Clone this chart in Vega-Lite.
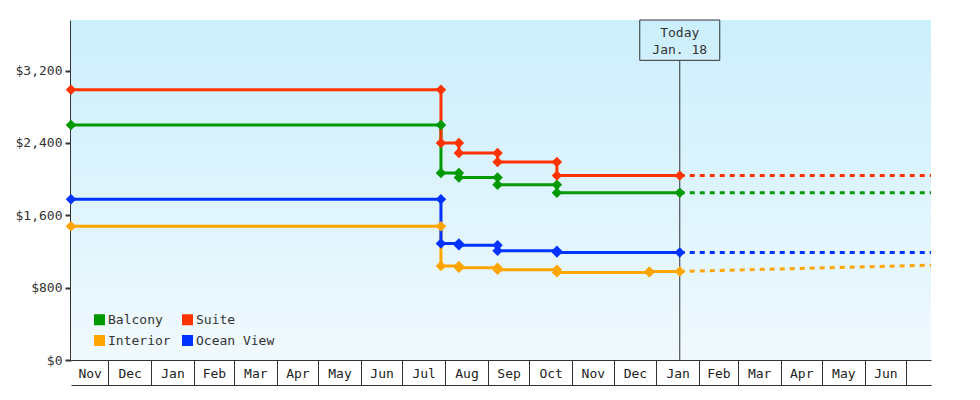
{
  "$schema": "https://vega.github.io/schema/vega-lite/v6.json",
  "width": 860,
  "height": 340,
  "autosize": {"type": "none"},
  "padding": {"left": 71, "top": 20, "right": 49, "bottom": 40},
  "background": "#ffffff",
  "config": {"view": {"stroke": null}, "font": "DejaVu Sans Mono"},
  "datasets": {
    "prices": [
      {"date": "2011-11-04", "room": "Balcony", "price": 2599},
      {"date": "2012-07-29", "room": "Balcony", "price": 2599},
      {"date": "2012-07-29", "room": "Balcony", "price": 2069},
      {"date": "2012-08-11", "room": "Balcony", "price": 2069},
      {"date": "2012-08-11", "room": "Balcony", "price": 2019},
      {"date": "2012-09-08", "room": "Balcony", "price": 2019},
      {"date": "2012-09-08", "room": "Balcony", "price": 1939},
      {"date": "2012-10-21", "room": "Balcony", "price": 1939},
      {"date": "2012-10-21", "room": "Balcony", "price": 1849},
      {"date": "2013-01-18", "room": "Balcony", "price": 1849},
      {"date": "2011-11-04", "room": "Suite", "price": 2989},
      {"date": "2012-07-29", "room": "Suite", "price": 2989},
      {"date": "2012-07-29", "room": "Suite", "price": 2399},
      {"date": "2012-08-11", "room": "Suite", "price": 2399},
      {"date": "2012-08-11", "room": "Suite", "price": 2289},
      {"date": "2012-09-08", "room": "Suite", "price": 2289},
      {"date": "2012-09-08", "room": "Suite", "price": 2189},
      {"date": "2012-10-21", "room": "Suite", "price": 2189},
      {"date": "2012-10-21", "room": "Suite", "price": 2039},
      {"date": "2013-01-18", "room": "Suite", "price": 2039},
      {"date": "2011-11-04", "room": "Interior", "price": 1479},
      {"date": "2012-07-29", "room": "Interior", "price": 1479},
      {"date": "2012-07-29", "room": "Interior", "price": 1039},
      {"date": "2012-08-11", "room": "Interior", "price": 1039},
      {"date": "2012-08-11", "room": "Interior", "price": 1019},
      {"date": "2012-09-08", "room": "Interior", "price": 1019},
      {"date": "2012-09-08", "room": "Interior", "price": 999},
      {"date": "2012-10-21", "room": "Interior", "price": 999},
      {"date": "2012-10-21", "room": "Interior", "price": 969},
      {"date": "2012-12-27", "room": "Interior", "price": 969},
      {"date": "2012-12-27", "room": "Interior", "price": 979},
      {"date": "2013-01-18", "room": "Interior", "price": 979},
      {"date": "2011-11-04", "room": "Ocean View", "price": 1779},
      {"date": "2012-07-29", "room": "Ocean View", "price": 1779},
      {"date": "2012-07-29", "room": "Ocean View", "price": 1289},
      {"date": "2012-08-11", "room": "Ocean View", "price": 1289},
      {"date": "2012-08-11", "room": "Ocean View", "price": 1269},
      {"date": "2012-09-08", "room": "Ocean View", "price": 1269},
      {"date": "2012-09-08", "room": "Ocean View", "price": 1209},
      {"date": "2012-10-21", "room": "Ocean View", "price": 1209},
      {"date": "2012-10-21", "room": "Ocean View", "price": 1189},
      {"date": "2013-01-18", "room": "Ocean View", "price": 1189}
    ],
    "forecast": [
      {"date": "2013-01-18", "room": "Balcony", "price": 1849},
      {"date": "2013-07-19", "room": "Balcony", "price": 1849},
      {"date": "2013-01-18", "room": "Suite", "price": 2039},
      {"date": "2013-07-19", "room": "Suite", "price": 2039},
      {"date": "2013-01-18", "room": "Interior", "price": 979},
      {"date": "2013-07-19", "room": "Interior", "price": 1049},
      {"date": "2013-01-18", "room": "Ocean View", "price": 1189},
      {"date": "2013-07-19", "room": "Ocean View", "price": 1189}
    ],
    "today": [{"date": "2013-01-18", "label": "Today"}]
  },
  "layer": [
    {
      "data": {"values": [{"bg": 1}]},
      "mark": {
        "type": "rect",
        "color": {
          "gradient": "linear",
          "x1": 0, "y1": 0, "x2": 0, "y2": 1,
          "stops": [
            {"offset": 0, "color": "#cbeffc"},
            {"offset": 1, "color": "#f0f9fe"}
          ]
        }
      },
      "encoding": {}
    },
    {
      "data": {"name": "today"},
      "mark": {"type": "rule", "color": "#333333", "strokeWidth": 1},
      "encoding": {
        "x": {"field": "date", "type": "temporal", "axis": null},
        "y": {"datum": 3314, "type": "quantitative", "axis": null},
        "y2": {"datum": 0}
      }
    },
    {
      "data": {"name": "today"},
      "mark": {"type": "rect", "width": 80, "fillOpacity": 0, "stroke": "#333333", "strokeWidth": 1},
      "encoding": {
        "x": {"field": "date", "type": "temporal", "axis": null},
        "y": {"datum": 3760, "type": "quantitative", "axis": null},
        "y2": {"datum": 3314}
      }
    },
    {
      "data": {"name": "today"},
      "mark": {"type": "text", "text": ["Today", "Jan. 18"], "font": "DejaVu Sans Mono", "fontSize": 13, "color": "#333333", "baseline": "middle", "align": "center", "lineHeight": 17},
      "encoding": {
        "x": {"field": "date", "type": "temporal", "axis": null},
        "y": {"datum": 3614, "type": "quantitative", "axis": null}
      }
    },
    {
      "data": {"name": "forecast"},
      "mark": {"type": "line", "strokeWidth": 3, "strokeDash": [5, 5]},
      "encoding": {
        "x": {"field": "date", "type": "temporal", "axis": null},
        "y": {"field": "price", "type": "quantitative", "axis": null},
        "color": {"field": "room", "type": "nominal"}
      }
    },
    {
      "data": {"name": "prices"},
      "mark": {"type": "line", "strokeWidth": 3},
      "encoding": {
        "x": {
          "field": "date", "type": "temporal",
          "scale": {"type": "utc", "nice": false, "domain": [{"year": 2011, "month": 11, "date": 4, "utc": true}, {"year": 2013, "month": 7, "date": 19, "utc": true}]},
          "axis": {
            "orient": "bottom",
            "title": null, "grid": false, "ticks": false, "domain": true, "domainColor": "#333333", "domainWidth": 1,
            "labelExpr": "utcFormat(datum.value, '%b')",
            "values": [
              {"year": 2011, "month": 11, "date": 17, "hours": 12, "utc": true},
              {"year": 2011, "month": 12, "date": 16, "hours": 12, "utc": true},
              {"year": 2012, "month": 1, "date": 16, "hours": 12, "utc": true},
              {"year": 2012, "month": 2, "date": 15, "hours": 12, "utc": true},
              {"year": 2012, "month": 3, "date": 16, "hours": 12, "utc": true},
              {"year": 2012, "month": 4, "date": 16, "utc": true},
              {"year": 2012, "month": 5, "date": 16, "hours": 12, "utc": true},
              {"year": 2012, "month": 6, "date": 16, "utc": true},
              {"year": 2012, "month": 7, "date": 16, "hours": 12, "utc": true},
              {"year": 2012, "month": 8, "date": 16, "hours": 12, "utc": true},
              {"year": 2012, "month": 9, "date": 16, "utc": true},
              {"year": 2012, "month": 10, "date": 16, "hours": 12, "utc": true},
              {"year": 2012, "month": 11, "date": 16, "utc": true},
              {"year": 2012, "month": 12, "date": 16, "hours": 12, "utc": true},
              {"year": 2013, "month": 1, "date": 16, "hours": 12, "utc": true},
              {"year": 2013, "month": 2, "date": 15, "utc": true},
              {"year": 2013, "month": 3, "date": 16, "hours": 12, "utc": true},
              {"year": 2013, "month": 4, "date": 16, "utc": true},
              {"year": 2013, "month": 5, "date": 16, "hours": 12, "utc": true},
              {"year": 2013, "month": 6, "date": 16, "utc": true}
            ],
            "labelFont": "DejaVu Sans Mono", "labelFontSize": 13, "labelColor": "#222222",
            "labelBaseline": "middle", "labelAlign": "center", "labelPadding": 13,
            "labelFlush": false, "labelOverlap": false
          }
        },
        "y": {
          "field": "price", "type": "quantitative",
          "scale": {"domain": [0, 3760], "nice": false, "zero": true},
          "axis": {
            "orient": "left",
            "title": null, "grid": false, "values": [0, 800, 1600, 2400, 3200], "format": "$,.0f",
            "domainColor": "#333333", "domainWidth": 3, "tickColor": "#333333", "tickWidth": 2, "tickSize": 6,
            "labelFont": "DejaVu Sans Mono", "labelFontSize": 13, "labelColor": "#333333", "labelPadding": 3
          }
        },
        "color": {
          "field": "room", "type": "nominal",
          "scale": {"domain": ["Balcony", "Suite", "Interior", "Ocean View"], "range": ["#009900", "#ff3300", "#ffa500", "#0033ff"]}
        }
      }
    },
    {
      "data": {"name": "prices"},
      "mark": {"type": "point", "shape": "diamond", "filled": true, "size": 110, "opacity": 1},
      "encoding": {
        "x": {
          "field": "date", "type": "temporal",
          "axis": {
            "orient": "bottom",
            "title": null, "grid": false, "labels": false, "ticks": true, "tickSize": -25, "tickColor": "#333333", "tickWidth": 1,
            "offset": 25, "domain": true, "domainColor": "#333333", "domainWidth": 1,
            "values": [
              {"year": 2011, "month": 12, "date": 1, "utc": true},
              {"year": 2012, "month": 1, "date": 1, "utc": true},
              {"year": 2012, "month": 2, "date": 1, "utc": true},
              {"year": 2012, "month": 3, "date": 1, "utc": true},
              {"year": 2012, "month": 4, "date": 1, "utc": true},
              {"year": 2012, "month": 5, "date": 1, "utc": true},
              {"year": 2012, "month": 6, "date": 1, "utc": true},
              {"year": 2012, "month": 7, "date": 1, "utc": true},
              {"year": 2012, "month": 8, "date": 1, "utc": true},
              {"year": 2012, "month": 9, "date": 1, "utc": true},
              {"year": 2012, "month": 10, "date": 1, "utc": true},
              {"year": 2012, "month": 11, "date": 1, "utc": true},
              {"year": 2012, "month": 12, "date": 1, "utc": true},
              {"year": 2013, "month": 1, "date": 1, "utc": true},
              {"year": 2013, "month": 2, "date": 1, "utc": true},
              {"year": 2013, "month": 3, "date": 1, "utc": true},
              {"year": 2013, "month": 4, "date": 1, "utc": true},
              {"year": 2013, "month": 5, "date": 1, "utc": true},
              {"year": 2013, "month": 6, "date": 1, "utc": true},
              {"year": 2013, "month": 7, "date": 1, "utc": true}
            ]
          }
        },
        "y": {"field": "price", "type": "quantitative", "axis": null},
        "color": {
          "field": "room", "type": "nominal",
          "legend": {
            "title": null, "orient": "none", "legendX": 22, "legendY": 293, "columns": 2, "direction": "horizontal",
            "symbolType": "square", "symbolSize": 121, "symbolStrokeWidth": 0, "symbolOpacity": 1,
            "labelFont": "DejaVu Sans Mono", "labelFontSize": 13, "labelColor": "#333333",
            "columnPadding": 10, "rowPadding": 7, "labelOffset": 2, "padding": 0,
            "encode": {"symbols": {"update": {"fill": {"scale": "color", "field": "value"}, "strokeWidth": {"value": 0}, "opacity": {"value": 1}}}}
          }
        }
      }
    }
  ],
  "resolve": {"axis": {"x": "independent", "y": "independent"}}
}
